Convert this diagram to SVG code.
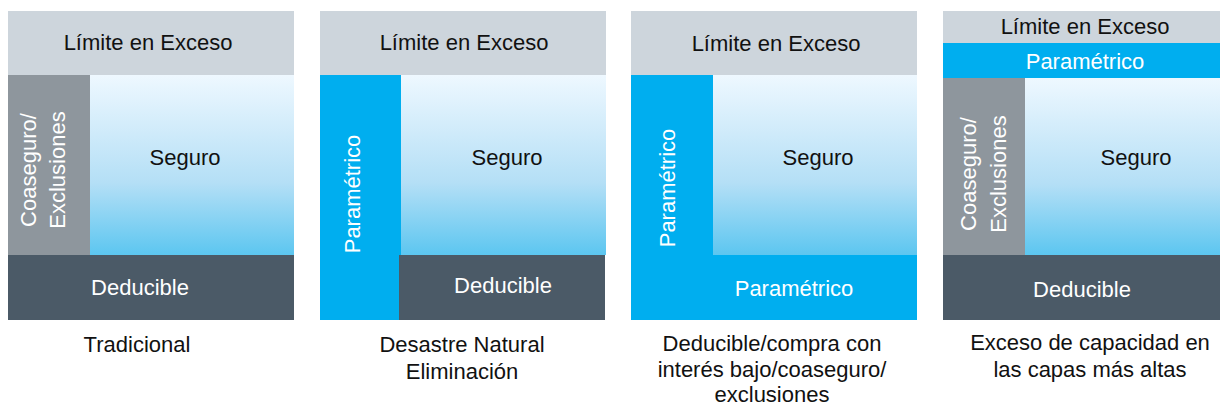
<svg xmlns="http://www.w3.org/2000/svg" width="1220" height="408" viewBox="0 0 1220 408">
<defs>
<linearGradient id="seg" x1="0" y1="0" x2="0" y2="1">
<stop offset="0" stop-color="#EEF8FF"/>
<stop offset="0.6" stop-color="#B4DFF6"/>
<stop offset="1" stop-color="#5CC6F0"/>
</linearGradient>
<style>
text{font-family:"Liberation Sans",Arial,sans-serif;font-size:22px;text-anchor:middle}
.dk{fill:#111}
.wt{fill:#fff}
.cap{font-size:22px;fill:#111}
.lim{fill:#CDD5DC}
.coa{fill:#8E969D}
.ded{fill:#4B5A67}
.par{fill:#00AEEF}
.seg{fill:url(#seg)}
</style>
</defs>
<rect width="1220" height="408" fill="#fff"/>

<g id="panel-tradicional">
<rect class="lim" x="8" y="11" width="286" height="64"/>
<rect class="seg" x="90" y="75" width="204" height="180"/>
<rect class="coa" x="8" y="75" width="82" height="180"/>
<rect class="ded" x="8" y="255" width="286" height="65"/>
<text class="dk" x="148" y="50">Límite en Exceso</text>
<text class="dk" x="185" y="165">Seguro</text>
<text class="wt" x="140" y="295">Deducible</text>
<text class="wt" transform="translate(36,170) rotate(-90)">Coaseguro/</text>
<text class="wt" transform="translate(65,170) rotate(-90)">Exclusiones</text>
<text class="cap" x="137" y="352">Tradicional</text>
</g>

<g id="panel-desastre">
<rect class="lim" x="320" y="11" width="286" height="64"/>
<rect class="seg" x="401" y="75" width="205" height="180"/>
<rect class="par" x="320" y="75" width="81" height="245"/>
<rect class="ded" x="399" y="255" width="206" height="65"/>
<text class="dk" x="464" y="50">Límite en Exceso</text>
<text class="dk" x="507" y="165">Seguro</text>
<text class="wt" x="503" y="293">Deducible</text>
<text class="wt" transform="translate(360,194) rotate(-90)">Paramétrico</text>
<text class="cap" x="462" y="352">Desastre Natural</text>
<text class="cap" x="462" y="379">Eliminación</text>
</g>

<g id="panel-deducible">
<rect class="lim" x="631" y="11" width="286" height="64"/>
<rect class="seg" x="713" y="75" width="204" height="180"/>
<rect class="par" x="631" y="75" width="82" height="180"/>
<rect class="par" x="631" y="255" width="286" height="65"/>
<text class="dk" x="776" y="51">Límite en Exceso</text>
<text class="dk" x="818" y="165">Seguro</text>
<text class="wt" x="794" y="296">Paramétrico</text>
<text class="wt" transform="translate(675,188) rotate(-90)">Paramétrico</text>
<text class="cap" x="772" y="351">Deducible/compra con</text>
<text class="cap" x="772" y="377">interés bajo/coaseguro/</text>
<text class="cap" x="772" y="402">exclusiones</text>
</g>

<g id="panel-exceso">
<rect class="lim" x="943" y="11" width="277" height="32"/>
<rect class="par" x="943" y="43" width="277" height="35"/>
<rect class="seg" x="1025" y="78" width="195" height="177"/>
<rect class="coa" x="943" y="78" width="82" height="177"/>
<rect class="ded" x="943" y="255" width="277" height="65"/>
<text class="dk" x="1085" y="34">Límite en Exceso</text>
<text class="wt" x="1085" y="69">Paramétrico</text>
<text class="dk" x="1136" y="165">Seguro</text>
<text class="wt" x="1082" y="297">Deducible</text>
<text class="wt" transform="translate(976,174) rotate(-90)">Coaseguro/</text>
<text class="wt" transform="translate(1006,174) rotate(-90)">Exclusiones</text>
<text class="cap" x="1090" y="350">Exceso de capacidad en</text>
<text class="cap" x="1090" y="377">las capas más altas</text>
</g>
</svg>
